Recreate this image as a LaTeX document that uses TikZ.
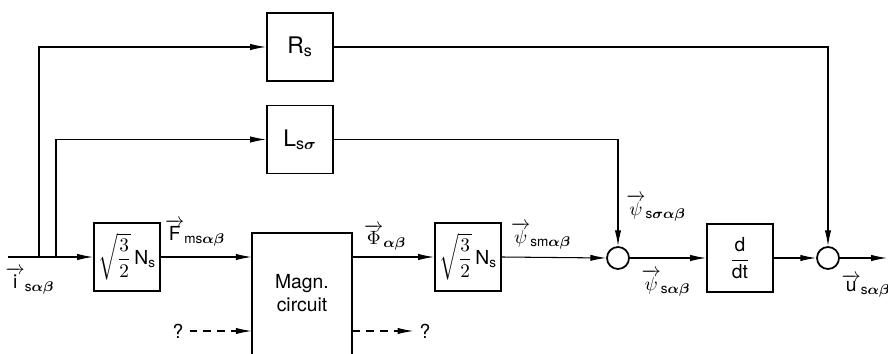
\documentclass[tikz,border=0pt]{standalone}
\usepackage{amsmath}
\usepackage{amssymb}
\usepackage{fontspec}
\setmainfont{TeX Gyre Heros}
\usepackage{tikz}
\usetikzlibrary{arrows.meta}

\tikzset{
    block/.style={draw, line width=1.1pt, minimum width=1.32cm, minimum height=1.36cm, inner sep=0pt},
    junction/.style={draw, line width=1pt, circle, minimum size=0.44cm, inner sep=0pt},
    signal/.style={line width=0.6pt, -{Latex[length=9pt,width=3.6pt]}},
    lbl/.style={inner sep=0pt}
}

\begin{document}
\begin{tikzpicture}[x=0.02cm, y=-0.02cm, font=\fontsize{11}{13}\selectfont]
    \useasboundingbox (0,0) rectangle (888,354);

    % Blocks
    \node[block] (gain1) at (127,257) {$\sqrt{\dfrac{3}{2}}\,$N$_\text{s}$};
    \node[minimum width=2cm, minimum height=2.42cm, inner sep=0pt, align=center]
        (magn) at (302,293.5) {Magn.\\circuit};
    \node[block] (gain2) at (468,257) {$\sqrt{\dfrac{3}{2}}\,$N$_\text{s}$};
    \node[junction] (sum1) at (618,258) {};
    \node[block] (ddt) at (740,258) {$\dfrac{\text{d}}{\text{dt}}$};
    \node[junction] (sum2) at (828,258) {};
    \node[block, font=\fontsize{13}{15}\selectfont] (rs) at (300,47) {R$_\text{s}$};
    \node[block, font=\fontsize{13}{15}\selectfont] (ls) at (300,139.5) {L$_{\text{s}\boldsymbol{\sigma}}$};

    % Magnetic circuit box, open at the bottom
    \draw[line width=1.1pt] (magn.south west) -- (magn.north west)
        -- (magn.north east) -- (magn.south east);

    % Points of the signal lines
    \coordinate (in) at (8,257);
    \coordinate (brR) at (39,257);
    \coordinate (brL) at (56,257);
    \coordinate (out) at (887,258);

    % Main path
    \draw[signal] (in) -- (gain1.west);
    \draw[signal] (gain1.east) -- (gain1.east -| magn.west);
    \draw[signal] (magn.east |- gain2.west) -- (gain2.west);
    \draw[signal] (gain2.east) -- (sum1.west);
    \draw[signal] (sum1.east) -- (ddt.west);
    \draw[signal] (ddt.east) -- (sum2.west);
    \draw[signal] (sum2.east) -- (out);

    % Feed-forward branches
    \draw[signal] (brR) |- (rs.west);
    \draw[signal] (brL) |- (ls.west);
    \draw[signal] (rs.east) -| (sum2.north);
    \draw[signal] (ls.east) -| (sum1.north);

    % Unknown inputs and outputs
    \node (qin) at (178,331) {?};
    \node (qout) at (425,331) {?};
    \draw[signal, dash pattern=on 4.5pt off 3.4pt] (qin.east) -- (qin.east -| magn.west);
    \draw[signal, dash pattern=on 4.5pt off 3.4pt] (magn.east |- qout.west) -- (qout.west);

    % Signal labels
    \node[lbl] (li) at (30,281) {$\overrightarrow{\text{i}}_{\text{s}\boldsymbol{\alpha\beta}}$};
    \node[lbl] (lf) at (195,233) {$\overrightarrow{\text{F}}_{\text{ms}\boldsymbol{\alpha\beta}}$};
    \node[lbl] (lphi) at (385,237) {$\overrightarrow{\Phi}_{\boldsymbol{\alpha\beta}}$};
    \node[lbl] (lpsm) at (541,236) {$\overrightarrow{\psi}_{\text{sm}\boldsymbol{\alpha\beta}}$};
    \node[lbl] (lpss) at (656,208) {$\overrightarrow{\psi}_{\text{s}\boldsymbol{\sigma\alpha\beta}}$};
    \node[lbl] (lps) at (666,283) {$\overrightarrow{\psi}_{\text{s}\boldsymbol{\alpha\beta}}$};
    \node[lbl] (lu) at (866,286) {$\overrightarrow{\text{u}}_{\text{s}\boldsymbol{\alpha\beta}}$};
\end{tikzpicture}
\end{document}
